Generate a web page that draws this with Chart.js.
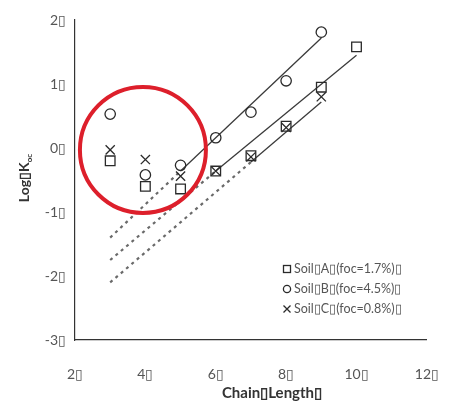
<!DOCTYPE html>
<html>
<head>
<meta charset="utf-8">
<script src="https://cdn.jsdelivr.net/npm/chart.js@4.4.1/dist/chart.umd.min.js"></script>
<style>
  html, body { margin: 0; padding: 0; background: #ffffff; }
  #wrap { width: 459px; height: 402px; position: relative; }
</style>
</head>
<body>
<div id="wrap"><canvas id="c" width="459" height="402"></canvas></div>
<script>
// ---- data ----
const chainLengths = [3, 4, 5, 6, 7, 8, 9, 10];
const soilA = [-0.20, -0.60, -0.64, -0.36, -0.12, 0.34, 0.95, 1.58];   // squares
const soilB = [0.53, -0.42, -0.27, 0.16, 0.56, 1.05, 1.81, null];     // circles
const soilC = [-0.03, -0.18, -0.44, -0.36, -0.14, 0.32, 0.80, null];  // crosses
// fitted lines: [x, y] end points (solid = fitted range, dashed = extrapolation)
const fitA_solid = [[6, -0.36], [10, 1.45]];
const fitA_dash  = [[3, -1.75], [6, -0.36]];
const fitB_solid = [[5, -0.36], [9, 1.72]];
const fitB_dash  = [[3, -1.40], [5, -0.36]];
const fitC_solid = [[7, -0.22], [9, 0.72]];
const fitC_dash  = [[3, -2.10], [7, -0.22]];
// highlighted (outlier) region centre
const highlight = [[3.93, -0.03]];
const xTicks = [2, 4, 6, 8, 10, 12];
const yTicks = [-3, -2, -1, 0, 1, 2];
const legendLabels = ['Soil\u25AFA\u25AF(foc=1.7%)\u25AF', 'Soil\u25AFB\u25AF(foc=4.5%)\u25AF', 'Soil\u25AFC\u25AF(foc=0.8%)\u25AF'];
const xTitle = 'Chain\u25AFLength\u25AF';
const yTitleMain = 'Log\u25AFK';
const yTitleSub = 'oc';
const BOX = '\u25AF';

const pts = arr => chainLengths.map((x, i) => ({x: x, y: arr[i]})).filter(p => p.y !== null);
const seg = arr => arr.map(p => ({x: p[0], y: p[1]}));

const FONT = 'Lato, "Open Sans", sans-serif';
const markColor = '#2a2a2a';
const lineColor = '#3a3a3a';
const dashColor = '#6a6a6a';

const solidLine = (d) => ({type: 'line', data: seg(d), borderColor: lineColor, borderWidth: 1.3, pointRadius: 0, fill: false, order: 3});
const dashLine = (d) => ({type: 'line', data: seg(d), borderColor: dashColor, borderWidth: 2.2, borderDash: [3, 4], pointRadius: 0, fill: false, order: 3});

const overlay = {
  id: 'overlay',
  afterDraw(chart) {
    const ctx = chart.ctx;
    ctx.save();
    // x title
    ctx.fillStyle = '#333';
    ctx.font = 'bold 15px ' + FONT;
    ctx.textAlign = 'center';
    ctx.textBaseline = 'middle';
    ctx.fillText(xTitle, 272, 393);
    // y title with subscript
    ctx.translate(24, 178);
    ctx.rotate(-Math.PI / 2);
    ctx.font = 'bold 14px ' + FONT;
    const wMain = ctx.measureText(yTitleMain).width;
    ctx.font = 'bold 8px ' + FONT;
    const wSub = ctx.measureText(yTitleSub).width;
    const start = -(wMain + wSub) / 2;
    ctx.textAlign = 'left';
    ctx.font = 'bold 14px ' + FONT;
    ctx.fillText(yTitleMain, start, 0);
    ctx.font = 'bold 8px ' + FONT;
    ctx.fillText(yTitleSub, start + wMain, 5);
    ctx.restore();

    // legend
    ctx.save();
    ctx.font = '12.5px ' + FONT;
    ctx.fillStyle = '#555';
    ctx.strokeStyle = markColor;
    ctx.lineWidth = 1.3;
    ctx.textAlign = 'left';
    ctx.textBaseline = 'middle';
    const lx = 287, ly = [269, 289, 309];
    ctx.strokeRect(lx - 3.5, ly[0] - 3.5, 7, 7);
    ctx.beginPath(); ctx.arc(lx, ly[1], 3.6, 0, Math.PI * 2); ctx.stroke();
    ctx.beginPath();
    ctx.moveTo(lx - 3.5, ly[2] - 3.5); ctx.lineTo(lx + 3.5, ly[2] + 3.5);
    ctx.moveTo(lx + 3.5, ly[2] - 3.5); ctx.lineTo(lx - 3.5, ly[2] + 3.5);
    ctx.stroke();
    legendLabels.forEach((t, i) => ctx.fillText(t, lx + 7, ly[i]));
    ctx.restore();
  }
};

new Chart(document.getElementById('c'), {
  type: 'scatter',
  data: {
    datasets: [
      {label: 'highlight', data: seg(highlight), pointStyle: 'circle', pointRadius: 63, pointHoverRadius: 63,
       borderColor: '#dd1f2b', borderWidth: 4, backgroundColor: 'rgba(0,0,0,0)', order: 0, clip: false},
      {label: legendLabels[0], data: pts(soilA), pointStyle: 'rect', pointRadius: 6.8, borderColor: markColor, borderWidth: 1.3, backgroundColor: 'rgba(0,0,0,0)', order: 1},
      {label: legendLabels[1], data: pts(soilB), pointStyle: 'circle', pointRadius: 5.2, borderColor: markColor, borderWidth: 1.3, backgroundColor: 'rgba(0,0,0,0)', order: 1},
      {label: legendLabels[2], data: pts(soilC), pointStyle: 'crossRot', pointRadius: 6.5, borderColor: markColor, borderWidth: 1.3, backgroundColor: 'rgba(0,0,0,0)', order: 1},
      solidLine(fitA_solid), dashLine(fitA_dash),
      solidLine(fitB_solid), dashLine(fitB_dash),
      solidLine(fitC_solid), dashLine(fitC_dash)
    ]
  },
  options: {
    responsive: false,
    animation: false,
    layout: {autoPadding: false, padding: {top: 20, right: 26, left: 0, bottom: 0}},
    plugins: {legend: {display: false}, tooltip: {enabled: false}},
    scales: {
      x: {
        type: 'linear', min: 2, max: 12,
        afterBuildTicks: s => { s.ticks = xTicks.map(v => ({value: v})); },
        afterFit: s => { s.height = 62; },
        grid: {display: false, drawTicks: true, tickLength: 6, color: '#444'},
        border: {display: true, color: '#333', width: 1.2},
        ticks: {padding: 20, color: '#555', font: {family: FONT, size: 14}, callback: v => v + BOX}
      },
      y: {
        type: 'linear', min: -3, max: 2,
        afterBuildTicks: s => { s.ticks = yTicks.map(v => ({value: v})); },
        afterFit: s => { s.width = 75; },
        grid: {display: false, drawTicks: true, tickLength: 6, color: '#444'},
        border: {display: true, color: '#333', width: 1.2},
        ticks: {padding: 3, color: '#555', font: {family: FONT, size: 14}, callback: v => v + BOX}
      }
    }
  },
  plugins: [overlay]
});
</script>
</body>
</html>
